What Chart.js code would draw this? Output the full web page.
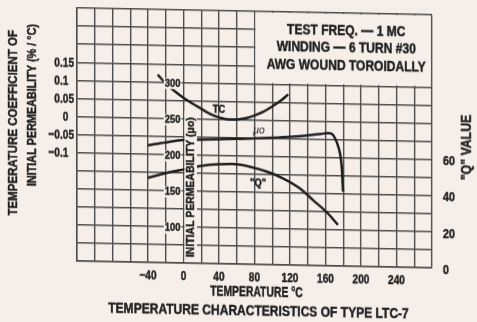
<!DOCTYPE html>
<html>
<head>
<meta charset="utf-8">
<script src="https://cdn.jsdelivr.net/npm/chart.js@4.4.1/dist/chart.umd.min.js"></script>
<style>
  html, body { margin: 0; padding: 0; background: #f6efe9; overflow: hidden; }
  /* the printed sheet sits a little off square */
  #chart { display: block; transform: skewY(1.1deg); transform-origin: 77px 0; }
</style>
</head>
<body>
<canvas id="chart" width="477" height="322"></canvas>
<script>
const FONT = '"Liberation Sans", Arial, sans-serif';
const PAPER = '#f6efe9';
const INK = '#1f1f1f';
const GRID = '#4c4c4c';

// temperature coefficient of initial permeability, % / °C
const tcTemps = [-29, -20, -10, 0, 10, 20, 30, 40, 50, 60, 70, 80, 90, 100, 110, 118];
const tcValues = [0.12, 0.096, 0.075, 0.057, 0.042, 0.028, 0.014, 0.005, 0.0, 0.0, 0.004, 0.012, 0.023, 0.038, 0.055, 0.072];

// initial permeability (mu o)
const muTemps = [-40, -20, 0, 20, 40, 60, 80, 100, 120, 140, 155, 163, 168, 171, 174, 176.5, 178.5, 179.8];
const muValues = [212, 216.5, 220, 221.2, 222.2, 223.2, 224.3, 225.8, 227.6, 230, 232.3, 233.5, 232, 226, 217, 205, 185, 153];

// "Q" value
const qTemps = [-40, -20, 0, 20, 40, 55, 75, 95, 112, 131, 146, 162, 174];
const qValues = [46.8, 49.5, 51.8, 54, 55.1, 55.3, 54, 51.3, 48, 42.6, 36.2, 29.4, 22.8];

const tempTickLabels = [-40, 0, 40, 80, 120, 160, 200, 240];
const tcTickLabels = [0.15, 0.1, 0.05, 0, -0.05, -0.1];
const muTickLabels = [300, 250, 200, 150, 100];
const qTickLabels = [0, 20, 40, 60];

const noteLines = ['TEST FREQ. \u2014 1 MC', 'WINDING \u2014 6 TURN #30', 'AWG WOUND TOROIDALLY'];
const curveNames = [
  { text: 'TC', axis: 'tc', x: 40, y: 0.026, style: 'bold', size: 11, sx: 0.85 },
  { text: '\u03bco', axis: 'mu', x: 85, y: 235, style: 'italic', size: 11, sx: 0.95 },
  { text: '"Q"', axis: 'q', x: 84, y: 45, style: 'bold', size: 11, sx: 0.85 }
];

const fmt = v => (v < 0 ? '\u2212' : '') + Math.abs(v);
const asPoints = (xs, ys) => xs.map((t, i) => ({ x: t, y: ys[i] }));

const curve = {
  borderColor: INK,
  borderWidth: 2.5,
  pointRadius: 0,
  fill: false,
  cubicInterpolationMode: 'monotone'
};

// the lettering on this sheet is a tall, heavy condensed face:
// squeeze it sideways and give it a thin outline
function drawText(ctx, text, x, y, o) {
  const style = o.style || 'bold';
  ctx.save();
  ctx.translate(x, y);
  if (o.rotate) ctx.rotate(-Math.PI / 2);
  ctx.scale(o.sx || 1, 1);
  ctx.font = `${style} ${o.size}px ${FONT}`;
  ctx.textAlign = o.align || 'center';
  ctx.textBaseline = 'middle';
  ctx.fillStyle = INK;
  ctx.fillText(text, 0, 0);
  if (style === 'bold') {
    ctx.strokeStyle = INK;
    ctx.lineWidth = 0.45;
    ctx.strokeText(text, 0, 0);
  }
  ctx.restore();
}

function textWidth(ctx, text, o) {
  ctx.save();
  ctx.font = `${o.style || 'bold'} ${o.size}px ${FONT}`;
  const w = ctx.measureText(text).width * (o.sx || 1);
  ctx.restore();
  return w;
}

const paperNotes = {
  id: 'paperNotes',
  beforeDatasetsDraw(chart) {
    // test conditions panel, grid blanked out behind it
    const { ctx, scales: { x, tc } } = chart;
    const l = x.getPixelForValue(80), r = x.getPixelForValue(280);
    const t = tc.getPixelForValue(0.3), b = tc.getPixelForValue(0.1);
    ctx.save();
    ctx.fillStyle = PAPER;
    ctx.fillRect(l + 1, t + 1, r - l - 2, b - t - 2);
    ctx.restore();
    const cy = (t + b) / 2 - 1;
    noteLines.forEach((s, i) => drawText(ctx, s, (l + r) / 2 + 3, cy + (i - 1) * 17.5, { size: 14, sx: 0.86 }));
  },
  afterDatasetsDraw(chart) {
    const { ctx, chartArea: ca, scales } = chart;
    // strip for the permeability axis name, next to the 0 °C line
    const x0 = scales.x.getPixelForValue(0);
    const top = scales.mu.getPixelForValue(260);
    ctx.save();
    ctx.fillStyle = PAPER;
    ctx.fillRect(x0 + 1, top, 12.5, ca.bottom - 1 - top);
    ctx.restore();
    drawText(ctx, 'INITIAL PERMEABILITY (\u03bco)', x0 + 7.5, (top + ca.bottom) / 2, { size: 11, sx: 0.95, rotate: true });

    // permeability scale, printed along the 0 °C line on paper patches
    muTickLabels.forEach(v => {
      const o = { size: 11, sx: 0.86, align: 'right' };
      const s = String(v);
      const y = scales.mu.getPixelForValue(v) + 1.5;
      const w = textWidth(ctx, s, o);
      ctx.save();
      ctx.fillStyle = PAPER;
      ctx.fillRect(x0 - 3 - w - 1, y - 5.5, w + 2, 11);
      ctx.restore();
      drawText(ctx, s, x0 - 3, y, o);
    });

    curveNames.forEach(n => {
      drawText(ctx, n.text, scales.x.getPixelForValue(n.x), scales[n.axis].getPixelForValue(n.y), n);
    });
  },
  afterDraw(chart) {
    const { ctx, chartArea: ca, scales } = chart;

    // temperature scale
    tempTickLabels.forEach(v => {
      drawText(ctx, fmt(v), scales.x.getPixelForValue(v), ca.bottom + 13, { size: 13, sx: 0.78 });
    });

    // coefficient scale, set on the decimal point
    const dotX = ca.left - 17;
    const tcFont = { size: 13.5, sx: 0.75 };
    tcTickLabels.forEach(v => {
      const s = fmt(v);
      const y = scales.tc.getPixelForValue(v) + 1;
      const dot = s.indexOf('.');
      if (dot < 0) {
        drawText(ctx, s, ca.left - 11.5, y, tcFont);
      } else {
        drawText(ctx, s.slice(0, dot), dotX, y, { ...tcFont, align: 'right' });
        drawText(ctx, s.slice(dot), dotX, y, { ...tcFont, align: 'left' });
      }
    });

    // Q scale
    qTickLabels.forEach(v => {
      drawText(ctx, String(v), ca.right + 11, scales.q.getPixelForValue(v) + 2, { size: 13.5, sx: 0.8, align: 'left' });
    });

    // axis titles and caption
    drawText(ctx, 'TEMPERATURE COEFFICIENT OF', ca.left - 64, ca.top + 116, { size: 13.5, sx: 0.85, rotate: true });
    drawText(ctx, 'INITIAL PERMEABILITY (% / \u00b0C)', ca.left - 45, ca.top + 98, { size: 13.5, sx: 0.8, rotate: true });
    drawText(ctx, '"Q" VALUE', ca.right + 35, ca.top + 132, { size: 14, sx: 0.88, rotate: true });
    const cx = (ca.left + ca.right) / 2;
    drawText(ctx, 'TEMPERATURE \u00b0C', cx + 2, ca.bottom + 28, { size: 14, sx: 0.74 });
    drawText(ctx, 'TEMPERATURE CHARACTERISTICS OF TYPE LTC-7', cx + 4, ca.bottom + 47, { size: 14, sx: 0.86 });
  }
};

new Chart(document.getElementById('chart'), {
  type: 'line',
  data: {
    datasets: [
      { ...curve, label: 'TC', data: asPoints(tcTemps, tcValues), yAxisID: 'tc' },
      { ...curve, label: 'Initial permeability', data: asPoints(muTemps, muValues), yAxisID: 'mu' },
      { ...curve, label: 'Q', data: asPoints(qTemps, qValues), yAxisID: 'q' }
    ]
  },
  options: {
    responsive: false,
    animation: false,
    events: [],
    layout: { padding: { top: 8, left: 0, right: 0, bottom: 0 } },
    plugins: { legend: { display: false }, tooltip: { enabled: false } },
    scales: {
      x: {
        type: 'linear',
        min: -120,
        max: 280,
        afterFit: s => { s.height = 61; },
        grid: { color: GRID, lineWidth: 1.4, drawTicks: false },
        border: { color: GRID, width: 1.4 },
        ticks: { stepSize: 20, autoSkip: false, display: false }
      },
      tc: {
        axis: 'y',
        type: 'linear',
        position: 'left',
        min: -0.4,
        max: 0.3,
        afterFit: s => { s.width = 77; },
        grid: { color: GRID, lineWidth: 1.4, drawTicks: false },
        border: { color: GRID, width: 1.4 },
        ticks: { stepSize: 0.05, autoSkip: false, display: false }
      },
      mu: {
        axis: 'y',
        type: 'linear',
        position: { x: 0 },
        min: 50,
        max: 400,
        grid: { display: false },
        border: { display: false },
        ticks: { stepSize: 50, display: false }
      },
      q: {
        axis: 'y',
        type: 'linear',
        position: 'right',
        min: 0,
        max: 140,
        afterFit: s => { s.width = 45; },
        grid: { display: false },
        border: { display: false },
        ticks: { stepSize: 10, display: false }
      }
    }
  },
  plugins: [paperNotes]
});
</script>
</body>
</html>
